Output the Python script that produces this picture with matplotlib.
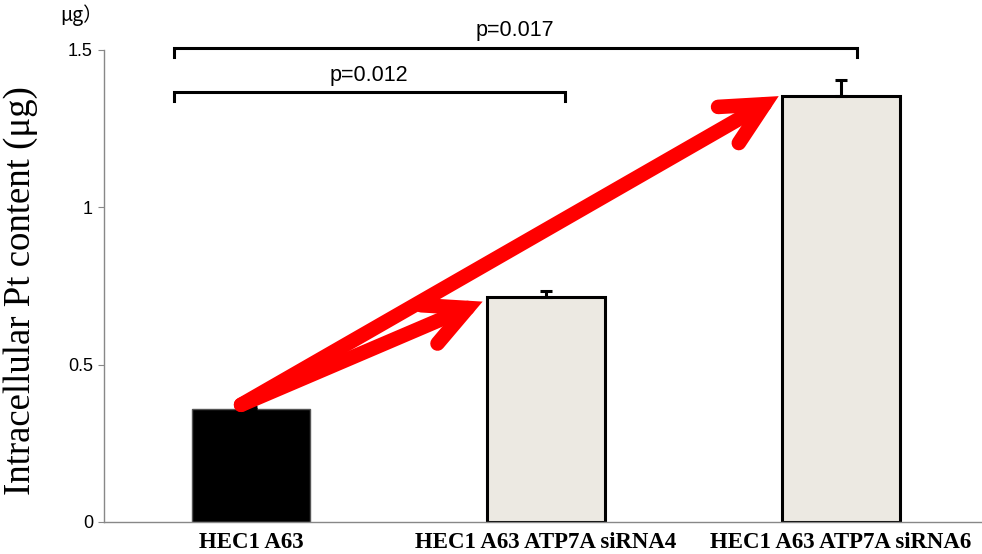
import matplotlib
matplotlib.use("Agg")
import matplotlib.pyplot as plt

categories = ["HEC1 A63", "HEC1 A63 ATP7A siRNA4", "HEC1 A63 ATP7A siRNA6"]
values = [0.36, 0.715, 1.353]
errors = [0.005, 0.018, 0.05]
bar_colors = ["#000000", "#ECE9E2", "#ECE9E2"]
edge_colors = ["#555555", "#000000", "#000000"]
y_ticks = [0, 0.5, 1, 1.5]
y_tick_labels = ["0", "0.5", "1", "1.5"]
p_labels = ["p=0.012", "p=0.017"]

fig = plt.figure(figsize=(9.82, 5.54), dpi=100)
ax = fig.add_axes([0.106, 0.058, 0.894, 0.852])

x = list(range(len(categories)))
width = 0.4
for i in x:
    ax.bar(i, values[i], width=width, color=bar_colors[i],
           edgecolor=edge_colors[i], linewidth=1 if i == 0 else 2.2, zorder=2)
    ax.errorbar(i, values[i], yerr=[[0], [errors[i]]], fmt="none",
                ecolor="black", elinewidth=2.2, capsize=4, capthick=2.2, zorder=3)

ax.set_xlim(-0.5, 2.48)
ax.set_ylim(0, 1.5)
ax.set_yticks(y_ticks)
ax.set_yticklabels(y_tick_labels, fontsize=13, family="Liberation Sans")
ax.set_xticks(x)
ax.set_xticklabels(categories, fontsize=16.5, fontweight="bold", family="Liberation Serif")
for lbl in ax.get_xticklabels():
    lbl.set_x(lbl.get_position()[0])
ax.tick_params(axis="x", length=0, pad=7)
ax.tick_params(axis="y", length=4, color="#888888", pad=4)
for s in ["top", "right"]:
    ax.spines[s].set_visible(False)
for s in ["left", "bottom"]:
    ax.spines[s].set_color("#888888")
    ax.spines[s].set_linewidth(1)

ax.set_ylabel("Intracellular Pt content (μg)", fontsize=26.5, family="Liberation Serif")
ax.yaxis.set_label_coords(-0.075, 0.49)

fig.text(0.061, 0.972, "μg）", fontsize=14, family=["Noto Sans CJK JP", "DejaVu Sans"], va="center")

# significance brackets
def bracket(x0, x1, y, drop, label, ty):
    ax.plot([x0, x0, x1, x1], [y - drop, y, y, y - drop], color="black",
            lw=2.2, clip_on=False, solid_joinstyle="miter", zorder=4)
    ax.text((x0 + x1) / 2, ty, label, ha="center", va="center", fontsize=15.5,
            family="Liberation Sans", clip_on=False)

bracket(-0.264, 1.064, 1.366, 0.027, p_labels[0], 1.42)
bracket(-0.264, 2.054, 1.506, 0.03, p_labels[1], 1.563)

# red arrows from the control bar to each knockdown bar
start = (x[0] - 0.035, values[0] + 0.012)
tip_offsets = {1: (-0.015, -0.015), 2: (-0.01, 0.0)}
for i in (1, 2):
    dx, dy = tip_offsets[i]
    tip = (x[i] - width / 2 + dx, values[i] + dy)
    ax.annotate("", xy=tip, xytext=start,
                arrowprops=dict(arrowstyle="->,head_length=3.0,head_width=1.5",
                                color="#FF0000", lw=10.5, capstyle="round",
                                joinstyle="miter", shrinkA=0, shrinkB=0),
                zorder=5)

fig.savefig("out.png", dpi=100)
